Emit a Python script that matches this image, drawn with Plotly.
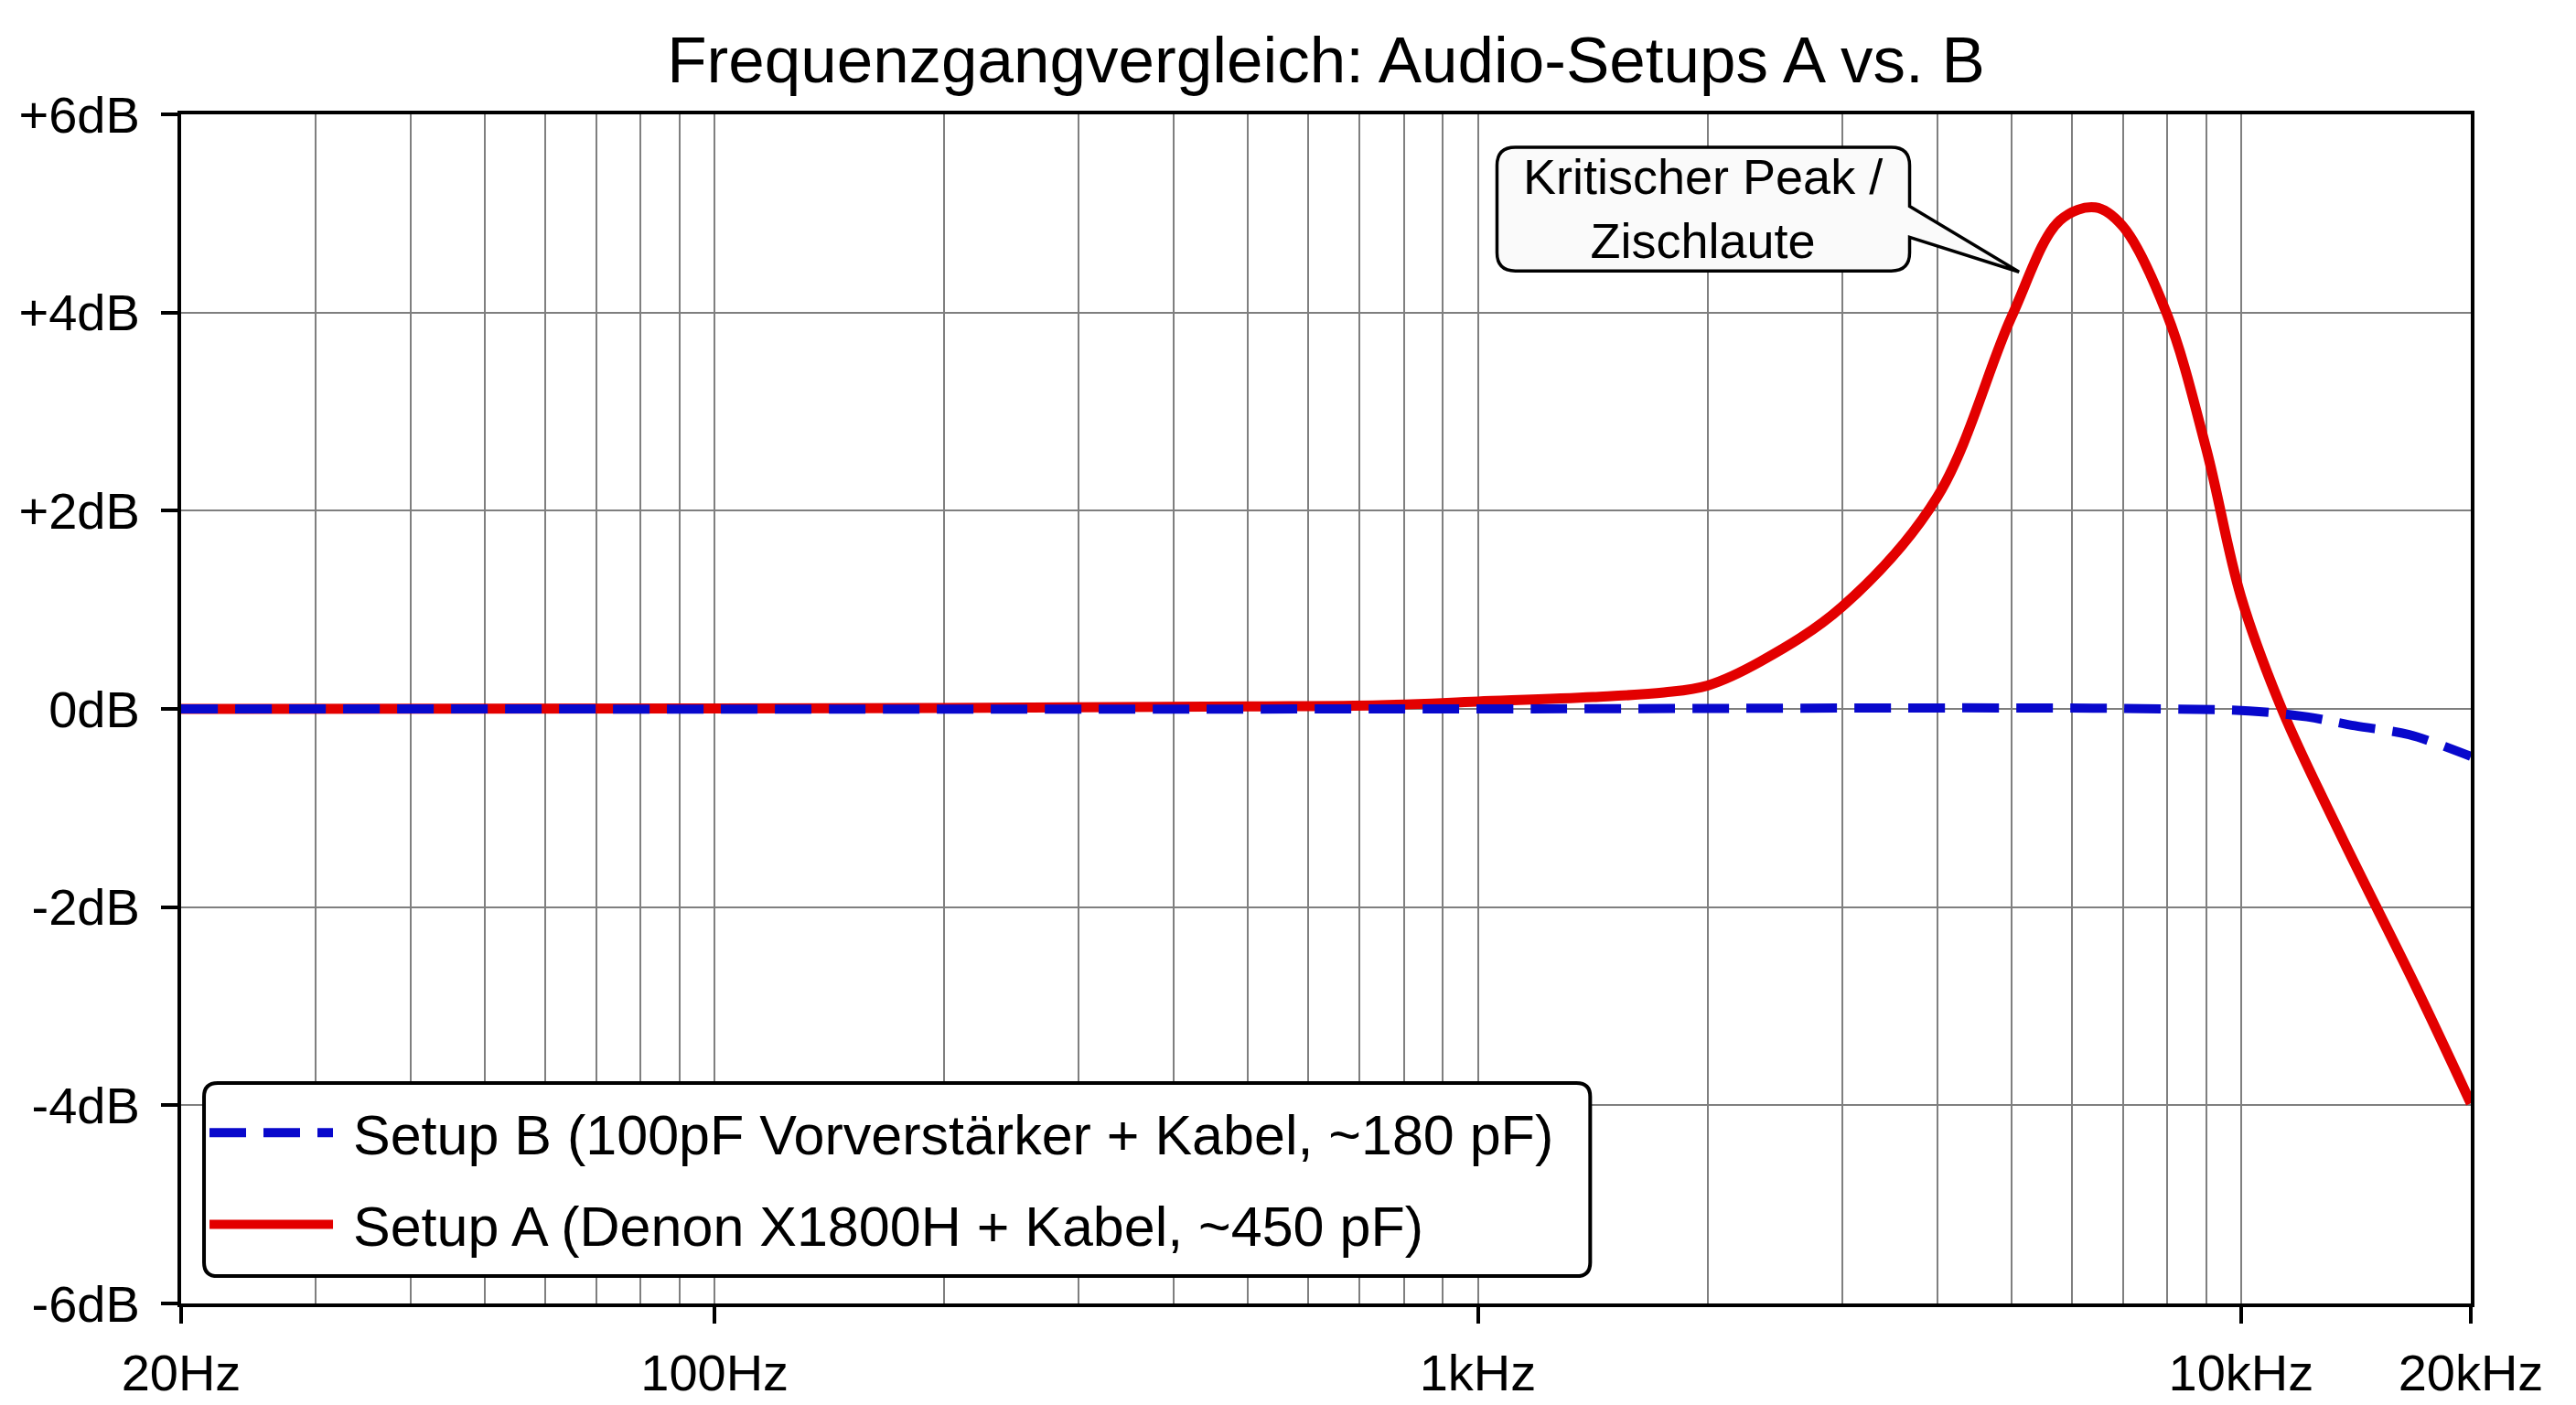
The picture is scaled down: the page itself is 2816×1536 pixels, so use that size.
import numpy as np
import plotly.graph_objects as go

# Frequenzgang (Hz / dB)
freq_a  = [20, 100, 200, 500, 745, 1000, 1416, 1754, 2000, 2348, 3000, 4000,
           5000, 5791, 6444, 7000, 8000, 9000, 10000, 11350, 13504, 16985, 20000]
setup_a = [0.0, 0.005, 0.01, 0.025, 0.037, 0.074, 0.12, 0.166, 0.236, 0.48, 1.03, 2.14,
           3.95, 4.93, 5.06, 4.87, 3.98, 2.63, 1.13, -0.03, -1.27, -2.82, -3.98]

freq_b  = [20, 1000, 5000, 8000, 10250, 12200, 14100, 16600, 19400, 20000]
setup_b = [0.0, 0.0, 0.01, 0.0, -0.02, -0.08, -0.17, -0.26, -0.44, -0.48]

x_tickvals  = [20, 100, 1000, 10000, 20000]
x_ticktext  = ["20Hz", "100Hz", "1kHz", "10kHz", "20kHz"]
x_minorvals = [30, 40, 50, 60, 70, 80, 90,
               200, 300, 400, 500, 600, 700, 800, 900,
               2000, 3000, 4000, 5000, 6000, 7000, 8000, 9000]
y_tickvals  = [6, 4, 2, 0, -2, -4, -6]
y_ticktext  = ["+6dB", "+4dB", "+2dB", "0dB", "-2dB", "-4dB", "-6dB"]

FONT = "Liberation Sans, Arial, sans-serif"
NB   = "\u00a0"


def rounded_path(x0, y0, x1, y1, rx, ry, wedge=None):
    """Abgerundetes Rechteck (paper-Koordinaten), optional mit Keil an der rechten Kante."""
    p  = f"M{x0 + rx},{y1} L{x1 - rx},{y1} Q{x1},{y1} {x1},{y1 - ry} "
    if wedge is not None:
        wy_top, wy_bot, tx, ty = wedge
        p += f"L{x1},{wy_top} L{tx},{ty} L{x1},{wy_bot} "
    p += f"L{x1},{y0 + ry} Q{x1},{y0} {x1 - rx},{y0} "
    p += f"L{x0 + rx},{y0} Q{x0},{y0} {x0},{y0 + ry} "
    p += f"L{x0},{y1 - ry} Q{x0},{y1} {x0 + rx},{y1} Z"
    return p


fig = go.Figure()

# rot zuerst, damit die blaue Strichlinie darueber liegt
fig.add_trace(go.Scatter(
    x          = freq_a,
    y          = setup_a,
    mode       = "lines",
    name       = NB + "Setup A (Denon X1800H + Kabel, ~450 pF)",
    legendrank = 2,
    legendgroup= "a",
    line       = dict(color="#e30000", width=11, shape="spline", smoothing=1.0),
))
fig.add_trace(go.Scatter(
    x          = freq_b,
    y          = setup_b,
    mode       = "lines",
    name       = NB + "Setup B (100pF Vorverstärker + Kabel, ~180 pF)",
    legendrank = 1,
    legendgroup= "b",
    line       = dict(color="#0808cc", width=10, dash="40px,19px", shape="spline", smoothing=1.0),
))

axis_common = dict(
    showline  = True,
    linecolor = "black",
    linewidth = 4,
    mirror    = True,
    ticks     = "outside",
    ticklen   = 18,
    tickwidth = 4,
    tickcolor = "black",
    gridcolor = "#7f7f7f",
    gridwidth = 2,
    zeroline  = False,
    tickfont  = dict(family=FONT, size=56, color="black"),
)

fig.update_xaxes(
    type      = "log",
    range     = [np.log10(20), np.log10(20000)],
    tickmode  = "array",
    tickvals  = x_tickvals,
    ticktext  = x_ticktext,
    ticklabelstandoff = 6,
    minor     = dict(tickmode="array", tickvals=x_minorvals, ticks="",
                     showgrid=True, gridcolor="#7f7f7f", gridwidth=2),
    **axis_common,
)
fig.update_yaxes(
    range    = [-6, 6],
    tickmode = "array",
    tickvals = y_tickvals,
    ticktext = y_ticktext,
    ticklabelstandoff = 12,
    **axis_common,
)

# Legendenkasten und Sprechblase als abgerundete Formen
fig.add_shape(
    type="path", xref="paper", yref="paper", layer="above",
    path=rounded_path(0.0100, 0.0230, 0.6154, 0.1853, 0.006, 0.0115),
    fillcolor="white", line=dict(color="black", width=4),
)
fig.add_shape(
    type="path", xref="paper", yref="paper", layer="above",
    path=rounded_path(0.5747, 0.8683, 0.7549, 0.9724, 0.008, 0.0153,
                      wedge=(0.9227, 0.8966, 0.8027, 0.8675)),
    fillcolor="#fafafa", line=dict(color="black", width=3.5),
)
fig.add_annotation(
    x = 0.6648, y = 0.9204, xref="paper", yref="paper",
    xanchor="center", yanchor="middle",
    text = "Kritischer Peak /<br>Zischlaute", showarrow=False,
    font = dict(family=FONT, size=54, color="black"),
)

fig.update_layout(
    width  = 2816,
    height = 1536,
    paper_bgcolor = "white",
    plot_bgcolor  = "white",
    margin = dict(l=184, r=123, t=117, b=113),
    title  = dict(
        text = "Frequenzgangvergleich: Audio-Setups A vs. B",
        x = 0.5, xref="paper", xanchor="center",
        y = 0.963, yanchor="middle",
        font = dict(family=FONT, size=71, color="black"),
    ),
    legend = dict(
        x = 0.0104, y = 0.1049, xanchor="left", yanchor="middle",
        bgcolor     = "rgba(0,0,0,0)",
        borderwidth = 0,
        font        = dict(family=FONT, size=61, color="black"),
        traceorder  = "grouped",
        tracegroupgap = 18,
        itemwidth   = 135,
    ),
    showlegend = True,
)

fig.write_html("out.html")
